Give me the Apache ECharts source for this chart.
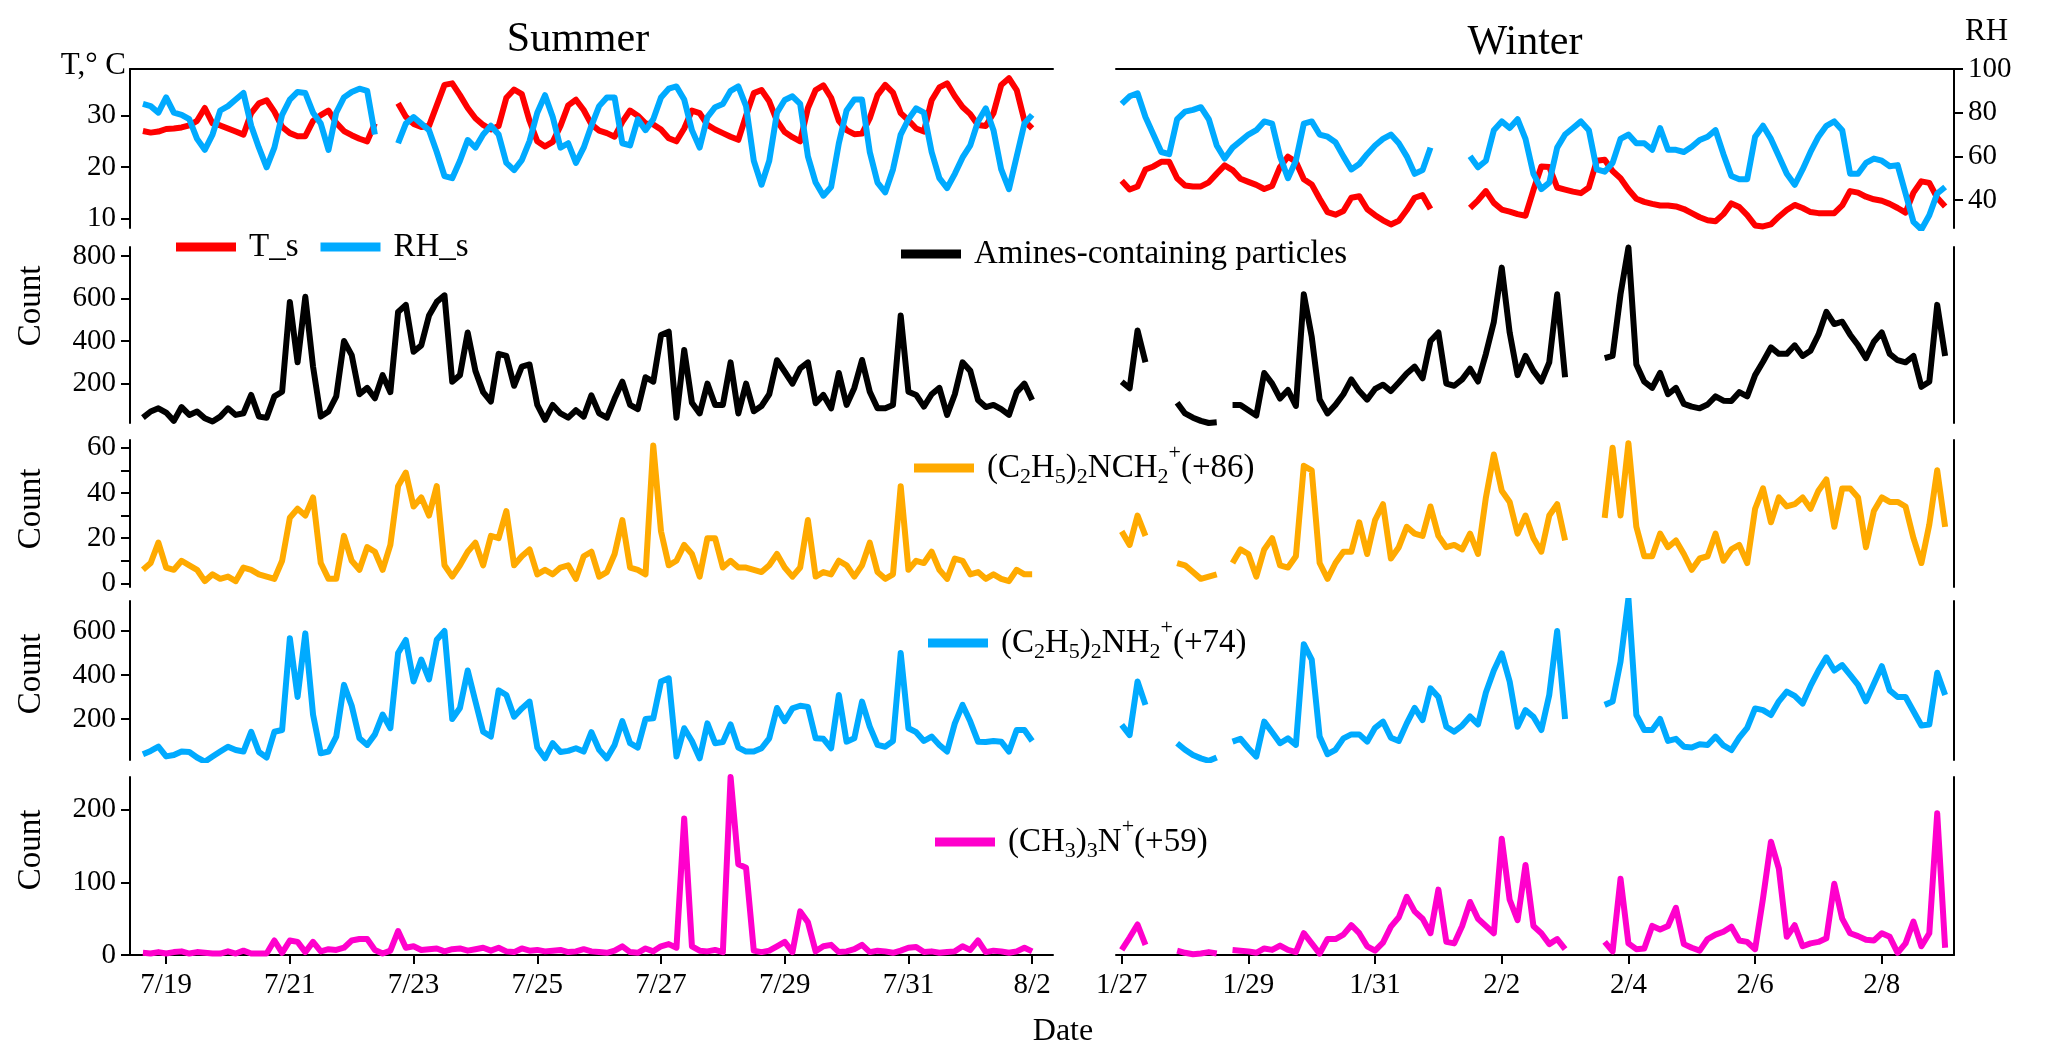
<!DOCTYPE html>
<html>
<head>
<meta charset="utf-8">
<title>Amines-containing particles, summer and winter</title>
<script src="https://cdn.jsdelivr.net/npm/echarts@6.0.0/dist/echarts.min.js"></script>
<style>
  html, body { margin: 0; padding: 0; background: #fff; }
  #chart { width: 2067px; height: 1056px; }
</style>
</head>
<body>
<div id="chart"></div>
<script>
// records every 3 h (0.125 day); x is the day of the month of the first month
var step = 0.125;
var summerStart = 18.625;   // 7/18 15:00
var winterStart = 27;       // 1/27 00:00

var summerTicks = [19, 21, 23, 25, 27, 29, 31, 33];
var summerTickLabels = ['7/19', '7/21', '7/23', '7/25', '7/27', '7/29', '7/31', '8/2'];
var winterTicks = [27, 29, 31, 33, 35, 37, 39];
var winterTickLabels = ['1/27', '1/29', '1/31', '2/2', '2/4', '2/6', '2/8'];

// summer
var summerT = [
  27.0, 26.7, 26.9, 27.4, 27.5, 27.7, 28.1, 29.0, 31.5, 28.5,
  28.1, 27.5, 26.9, 26.3, 30.5, 32.4, 33.0, 30.8, 27.8, 26.6,
  26.0, 26.0, 29.0, 30.1, 31.0, 28.6, 27.0, 26.2, 25.5, 25.0,
  28.5, null, null, 32.4, 29.8, 28.4, 27.8, 28.0, 32.0, 36.0,
  36.3, 34.0, 31.5, 29.5, 28.2, 27.3, 28.0, 33.5, 35.1, 34.2,
  29.0, 25.0, 24.0, 24.9, 28.0, 32.0, 33.1, 31.1, 28.3, 27.1,
  26.6, 25.9, 28.8, 31.0, 30.0, 28.5, 28.3, 27.3, 25.6, 25.0,
  27.5, 31.0, 30.5, 28.2, 27.3, 26.6, 25.9, 25.3, 30.0, 34.4,
  35.0, 32.8, 29.0, 26.8, 25.8, 25.0, 31.5, 35.0, 35.9, 33.5,
  29.0, 27.2, 26.4, 26.5, 29.5, 34.0, 36.0, 34.5, 30.5, 29.1,
  27.5, 26.9, 33.0, 35.5, 36.3, 33.8, 31.7, 30.3, 28.2, 28.0,
  30.5, 36.0, 37.3, 35.0, 29.0, 27.5
];
var summerRH = [
  84, 83, 80, 87, 80, 79, 77, 68, 63, 70,
  81, 83, 86, 89, 74, 64, 55, 64, 79, 86,
  89.5, 89, 80, 75, 63, 80, 87, 89.5, 91, 90,
  70, null, null, 66, 75, 78, 75, 72, 62, 51,
  50, 58, 67.5, 64, 70, 74, 70, 57, 53.7, 58.3,
  67, 80, 88, 78, 64, 66, 57, 64, 74, 83,
  87, 87, 66, 65, 77, 72, 77, 87, 91, 92,
  86, 72, 64, 78, 82.5, 84, 90, 92, 83, 58,
  47, 58, 80, 85.8, 87.5, 84, 60, 48, 42, 46,
  66, 81, 86, 86, 62, 48, 43.5, 54, 70, 77,
  82, 80, 62, 50, 45.5, 52, 59.5, 65, 76, 82,
  72, 54, 45, 60, 75, 79
];
var summerAmines = [
  40, 69, 84, 64, 25, 90, 53, 69, 37, 22,
  45, 84, 53, 61, 147, 45, 40, 140, 162, 584,
  300, 608, 280, 45, 69, 140, 400, 334, 150, 180,
  131, 240, 160, 537, 570, 350, 380, 520, 584, 615,
  209, 240, 440, 260, 160, 116, 340, 330, 190, 280,
  290, 100, 30, 100, 60, 40, 75, 45, 145, 60,
  40, 130, 209, 100, 80, 230, 209, 428, 444, 40,
  358, 110, 60, 200, 100, 100, 300, 60, 200, 70,
  95, 150, 310, 256, 200, 272, 300, 108, 147, 84,
  250, 100, 180, 311, 162, 84, 84, 100, 520, 162,
  147, 92, 150, 180, 53, 150, 300, 260, 123, 90,
  100, 80, 53, 160, 200, 123
];
var summerM86 = [
  6, 9, 18, 7, 6, 10, 8, 6, 1, 4,
  2, 3, 1, 7, 6, 4, 3, 2, 10, 29,
  33, 30, 38, 9, 2, 2, 21, 10, 6, 16,
  14, 6, 17, 43, 49, 34, 38, 30, 43, 8,
  3, 8, 14, 18, 8, 21, 20, 32, 8, 12,
  15, 4, 6, 4, 7, 8, 2, 12, 14, 3,
  5, 13, 28, 7, 6, 4, 61, 23, 8, 10,
  17, 13, 3, 20, 20, 7, 10, 7, 7, 6,
  5, 8, 13, 7, 3, 7, 28, 3, 5, 4,
  10, 8, 3, 8, 18, 5, 2, 4, 43, 6,
  10, 9, 14, 6, 2, 11, 10, 4, 5, 2,
  4, 2, 1, 6, 4, 4
];
var summerM74 = [
  40, 55, 74, 30, 36, 52, 50, 25, 6, 29,
  52, 74, 59, 52, 142, 50, 25, 142, 150, 567,
  300, 589, 220, 44, 52, 120, 355, 260, 112, 82,
  130, 220, 158, 500, 559, 370, 470, 380, 560, 600,
  200, 250, 420, 280, 142, 120, 330, 309, 210, 248,
  279, 70, 21, 90, 50, 55, 67, 52, 140, 60,
  21, 82, 190, 90, 70, 200, 203, 370, 385, 30,
  158, 100, 21, 180, 90, 95, 175, 70, 52, 52,
  67, 112, 250, 190, 248, 260, 255, 112, 110, 67,
  309, 97, 112, 279, 165, 82, 74, 100, 500, 158,
  140, 100, 120, 82, 52, 180, 264, 188, 97, 95,
  100, 97, 52, 150, 150, 100
];
var summerM59 = [
  3, 2, 4, 2, 4, 5, 2, 4, 3, 2,
  2, 5, 2, 6, 2, 2, 2, 20, 3, 20,
  18, 4, 18, 5, 8, 7, 10, 20, 22, 22,
  7, 2, 6, 33, 10, 12, 7, 8, 9, 5,
  8, 9, 6, 8, 10, 6, 10, 5, 4, 9,
  6, 7, 5, 6, 7, 4, 5, 8, 5, 4,
  3, 6, 12, 4, 3, 9, 5, 12, 15, 10,
  188, 12, 6, 5, 7, 4, 245, 125, 120, 6,
  4, 6, 12, 18, 4, 60, 45, 5, 12, 14,
  4, 5, 8, 14, 4, 6, 5, 3, 6, 10,
  11, 4, 5, 3, 4, 5, 12, 7, 20, 4,
  6, 5, 3, 5, 10, 5
];

// winter
var winterT = [
  17.3, 15.6, 16.2, 19.5, 20.1, 21.0, 21.0, 17.8, 16.4, 16.2,
  16.2, 17.0, 18.7, 20.3, 19.4, 17.7, 17.1, 16.5, 15.7, 16.3,
  20.0, 22.0, 21.0, 17.6, 16.6, 13.8, 11.2, 10.7, 11.4, 14.0,
  14.3, 11.8, 10.6, 9.6, 8.8, 9.5, 11.6, 14.0, 14.5, 11.8,
  null, null, null, null, 12.0, 13.5, 15.3, 13.0, 11.7, 11.3,
  10.8, 10.5, 15.5, 20.1, 20.0, 16.0, 15.6, 15.2, 14.9, 16.0,
  21.2, 21.4, 19.2, 17.8, 15.6, 13.8, 13.2, 12.8, 12.5, 12.5,
  12.3, 11.8, 11.0, 10.2, 9.6, 9.4, 10.8, 12.9, 12.2, 10.6,
  8.6, 8.4, 8.8, 10.3, 11.6, 12.6, 12.0, 11.2, 11.0, 11.0,
  11.0, 12.5, 15.3, 15.0, 14.2, 13.7, 13.4, 12.8, 12.0, 11.1,
  15.0, 17.2, 16.9, 14.0, 12.3
];
var winterRH = [
  84, 87.5, 88.9, 78, 70, 62, 61, 77, 80.5, 81.3,
  82.5, 77, 65, 59, 64, 67, 70, 72, 76, 75,
  60, 50, 58, 75, 76, 70, 69, 66.5, 60, 54,
  56.5, 61, 65, 68, 70, 66, 60, 52, 53.7, 64,
  null, null, null, null, 60, 55, 58, 72, 76, 73,
  77, 68, 52, 45, 48, 64, 70, 73, 76, 72,
  54, 53, 57, 68, 70, 66, 66, 63, 73, 63,
  63, 62, 64.4, 67.5, 69, 72, 61, 51, 49.5, 49.5,
  69, 74, 68, 60, 52, 47, 54, 62, 69, 74,
  76, 72, 52, 52, 57, 59, 58, 55.5, 56, 43,
  30, 26.5, 33, 43, 46
];
var winterAmines = [
  209, 178, 450, 300, null, null, null, 110, 60, 40,
  25, 15, 18, null, 100, 100, 75, 50, 250, 200,
  130, 170, 95, 620, 420, 125, 60, 100, 150, 220,
  165, 125, 175, 195, 165, 205, 248, 280, 225, 400,
  440, 200, 190, 220, 270, 210, 340, 490, 745, 440,
  240, 330, 260, 210, 300, 620, 230, null, null, null,
  null, 320, 330, 620, 840, 290, 209, 180, 250, 150,
  180, 105, 92, 84, 102, 140, 120, 118, 160, 140,
  240, 303, 370, 340, 340, 380, 330, 355, 430, 537,
  480, 491, 430, 380, 320, 397, 440, 340, 310, 300,
  330, 185, 209, 570, 330
];
var winterM86 = [
  23, 17, 30, 21, null, null, null, 9, 8, 5,
  2, 3, 4, null, 9, 15, 13, 3, 15, 20,
  8, 7, 12, 52, 50, 9, 2, 9, 14, 14,
  27, 13, 28, 35, 11, 16, 25, 22, 21, 34,
  21, 16, 17, 15, 22, 13, 38, 57, 41, 36,
  22, 30, 20, 14, 30, 35, 19, null, null, null,
  null, 29, 60, 30, 62, 25, 12, 12, 22, 16,
  19, 13, 6, 11, 12, 22, 10, 15, 17, 9,
  33, 42, 27, 38, 34, 35, 38, 33, 41, 46,
  25, 42, 42, 38, 16, 32, 38, 36, 36, 34,
  20, 9, 26, 50, 25
];
var winterM74 = [
  173, 127, 370, 264, null, null, null, 90, 60, 36,
  21, 10, 25, null, 97, 110, 67, 29, 188, 140,
  90, 112, 82, 540, 470, 120, 40, 60, 112, 130,
  130, 97, 160, 188, 115, 100, 180, 250, 195, 339,
  300, 165, 142, 170, 211, 175, 320, 420, 498, 370,
  165, 240, 210, 150, 309, 600, 200, null, null, null,
  null, 264, 279, 460, 748, 218, 150, 150, 200, 100,
  110, 74, 70, 85, 82, 120, 80, 59, 115, 160,
  248, 240, 218, 280, 324, 305, 270, 350, 420, 480,
  420, 445, 400, 355, 280, 360, 440, 330, 300, 300,
  235, 170, 175, 410, 309
];
var winterM59 = [
  7, 24, 42, 14, null, null, null, 6, 3, 1,
  2, 4, 2, null, 7, 6, 5, 3, 9, 7,
  13, 7, 4, 30, 16, 2, 22, 22, 28, 41,
  30, 12, 6, 17, 39, 52, 80, 60, 50, 30,
  90, 18, 16, 40, 73, 50, 40, 30, 160, 76,
  48, 124, 40, 30, 15, 22, 8, null, null, null,
  null, 18, 5, 105, 16, 8, 9, 40, 35, 40,
  65, 15, 10, 6, 22, 28, 32, 39, 20, 18,
  8, 78, 156, 119, 25, 41, 12, 16, 18, 23,
  98, 50, 30, 26, 21, 20, 30, 25, 3, 16,
  46, 12, 30, 195, 10
];

var tTicks = [10, 20, 30];
var rhTicks = [40, 60, 80, 100];
var aminesTicks = [200, 400, 600, 800];
var m86Ticks = [0, 10, 20, 30, 40, 50, 60];
var m86Labels = [0, 20, 40, 60];
var m74Ticks = [200, 400, 600];
var m59Ticks = [0, 100, 200];

var NAME_T = 'T_s', NAME_RH = 'RH_s', NAME_AM = 'Amines-containing particles';
var NAME_86 = '(C2H5)2NCH2+(+86)', NAME_74 = '(C2H5)2NH2+(+74)', NAME_59 = '(CH3)3N+(+59)';

var serif = "'Liberation Serif', 'Times New Roman', serif";
var RED = '#ff0000', BLUE = '#00aaff', ORANGE = '#ffaa00', PINK = '#ff00cc';

// panel layout
var seasons = [
  { start: summerStart, min: 18.416, max: 33.337, left: 130, width: 923, ticks: summerTicks, labels: summerTickLabels },
  { start: winterStart, min: 26.91, max: 40.14, left: 1116, width: 838, ticks: winterTicks, labels: winterTickLabels }
];
var rows = [
  { top: 69, height: 159 },
  { top: 247, height: 176, min: 15, max: 842, ticks: aminesTicks, labels: aminesTicks },
  { top: 440, height: 147, min: -1.6, max: 63.4, ticks: m86Ticks, labels: m86Labels },
  { top: 601, height: 159, min: 13.6, max: 736, ticks: m74Ticks, labels: m74Ticks },
  { top: 777, height: 178, min: 0, max: 245, ticks: m59Ticks, labels: m59Ticks }
];

var axisLine = { show: true, lineStyle: { color: '#000', width: 2 } };
var labelStyle = { color: '#000', fontFamily: serif, fontSize: 29 };

function pairs(start, values) {
  return values.map(function (v, i) {
    return [start + i * step, v === null ? '-' : v];
  });
}

var grids = [], xAxes = [], yAxes = [], series = [];

rows.forEach(function (row, r) {
  seasons.forEach(function (s, k) {
    grids.push({ left: s.left, width: s.width, top: row.top, height: row.height, outerBoundsMode: 'none' });
    var xa = { type: 'value', gridIndex: grids.length - 1, min: s.min, max: s.max, splitLine: { show: false } };
    if (r === 0) {
      xa.position = 'top';
      xa.axisLine = axisLine;
      xa.axisTick = { show: false };
      xa.axisLabel = { show: false };
    } else if (r === 4) {
      xa.position = 'bottom';
      xa.axisLine = axisLine;
      xa.axisTick = { show: true, customValues: s.ticks, length: 9, lineStyle: { color: '#000', width: 2 } };
      xa.axisLabel = Object.assign({
        customValues: s.ticks, margin: 16,
        formatter: function (v) { return s.labels[s.ticks.indexOf(v)]; }
      }, labelStyle);
    } else {
      xa.show = false;
    }
    xAxes.push(xa);
  });
});

// row 1: temperature axis at the left of summer, RH axis at the right of winter
yAxes.push(
  { type: 'value', gridIndex: 0, position: 'left', min: 8.1, max: 39.1, splitLine: { show: false },
    axisLine: axisLine, axisTick: { customValues: tTicks, length: 9, lineStyle: { width: 2, color: '#000' } },
    axisLabel: Object.assign({ customValues: tTicks, margin: 14 }, labelStyle) },
  { type: 'value', gridIndex: 0, min: 27.2, max: 100, show: false },
  { type: 'value', gridIndex: 1, min: 8.1, max: 39.1, show: false },
  { type: 'value', gridIndex: 1, position: 'right', min: 27.2, max: 100, splitLine: { show: false },
    axisLine: axisLine, axisTick: { customValues: rhTicks, length: 9, lineStyle: { width: 2, color: '#000' } },
    axisLabel: Object.assign({ customValues: rhTicks, margin: 14 }, labelStyle) }
);
for (var r = 1; r < rows.length; r++) {
  var row = rows[r];
  yAxes.push({ type: 'value', gridIndex: 2 * r, position: 'left', min: row.min, max: row.max, splitLine: { show: false },
    axisLine: axisLine, axisTick: { customValues: row.ticks, length: 9, lineStyle: { width: 2, color: '#000' } },
    axisLabel: Object.assign({ customValues: row.labels, margin: 14 }, labelStyle) });
  yAxes.push({ type: 'value', gridIndex: 2 * r + 1, position: 'right', min: row.min, max: row.max, splitLine: { show: false },
    axisLine: axisLine, axisTick: { show: false }, axisLabel: { show: false } });
}

function line(name, color, xIdx, yIdx, start, values) {
  series.push({
    name: name, type: 'line', xAxisIndex: xIdx, yAxisIndex: yIdx,
    data: pairs(start, values), showSymbol: false, connectNulls: false,
    itemStyle: { color: color }, lineStyle: { color: color, width: 6, join: 'round' },
    emphasis: { disabled: true }
  });
}

line(NAME_T, RED, 0, 0, summerStart, summerT);
line(NAME_RH, BLUE, 0, 1, summerStart, summerRH);
line(NAME_T, RED, 1, 2, winterStart, winterT);
line(NAME_RH, BLUE, 1, 3, winterStart, winterRH);

[[NAME_AM, '#000', summerAmines, winterAmines],
 [NAME_86, ORANGE, summerM86, winterM86],
 [NAME_74, BLUE, summerM74, winterM74],
 [NAME_59, PINK, summerM59, winterM59]].forEach(function (d, i) {
  var r = i + 1;
  line(d[0], d[1], 2 * r, 4 + 2 * (r - 1), summerStart, d[2]);
  line(d[0], d[1], 2 * r + 1, 5 + 2 * (r - 1), winterStart, d[3]);
});

var richNames = {};
richNames[NAME_86] = '{a|(C}{b|2}{a|H}{b|5}{a|)}{b|2}{a|NCH}{b|2}{c|+}{a|(+86)}';
richNames[NAME_74] = '{a|(C}{b|2}{a|H}{b|5}{a|)}{b|2}{a|NH}{b|2}{c|+}{a|(+74)}';
richNames[NAME_59] = '{a|(CH}{b|3}{a|)}{b|3}{a|N}{c|+}{a|(+59)}';

function legend(names, left, centerY, rich) {
  var lh = rich ? 52 : 36;
  var l = {
    data: names, left: left, top: centerY - lh / 2, orient: 'horizontal', icon: 'rect',
    itemWidth: 60, itemHeight: 9, itemGap: 22, selectedMode: false, padding: 0,
    textStyle: { color: '#000', fontFamily: serif, fontSize: 33, lineHeight: lh, padding: [0, 0, 0, 8] }
  };
  if (rich) {
    l.formatter = function (n) { return richNames[n]; };
    l.textStyle.rich = {
      a: { fontFamily: serif, fontSize: 33, lineHeight: lh, color: '#000' },
      b: { fontFamily: serif, fontSize: 22, lineHeight: 20, padding: [0, 0, 6, 0], verticalAlign: 'bottom', color: '#000' },
      c: { fontFamily: serif, fontSize: 22, lineHeight: 20, verticalAlign: 'top', color: '#000' }
    };
  }
  return l;
}

function text(str, x, y, size, opts) {
  opts = opts || {};
  return {
    type: 'text', x: x, y: y, rotation: opts.rotation || 0,
    style: { text: str, fill: '#000', font: (opts.weight || 'normal') + ' ' + size + 'px ' + serif,
             align: opts.align || 'center', verticalAlign: 'middle' }
  };
}

var option = {
  animation: false,
  backgroundColor: '#fff',
  grid: grids,
  xAxis: xAxes,
  yAxis: yAxes,
  series: series,
  legend: [
    legend([NAME_T, NAME_RH], 176, 247),
    legend([NAME_AM], 901, 254),
    legend([NAME_86], 914, 468, true),
    legend([NAME_74], 928, 643, true),
    legend([NAME_59], 935, 842, true)
  ],
  graphic: [
    text('Summer', 578, 40, 42),
    text('Winter', 1525, 43, 42),
    text('T,\u00b0 C', 126, 66, 31, { align: 'right' }),
    text('RH', 1965, 32, 31, { align: 'left' }),
    text('Count', 31, 306, 33, { rotation: Math.PI / 2 }),
    text('Count', 31, 509, 33, { rotation: Math.PI / 2 }),
    text('Count', 31, 674, 33, { rotation: Math.PI / 2 }),
    text('Count', 31, 850, 33, { rotation: Math.PI / 2 }),
    text('Date', 1063, 1032, 32)
  ]
};

var chart = echarts.init(document.getElementById('chart'));
chart.setOption(option);
</script>
</body>
</html>
